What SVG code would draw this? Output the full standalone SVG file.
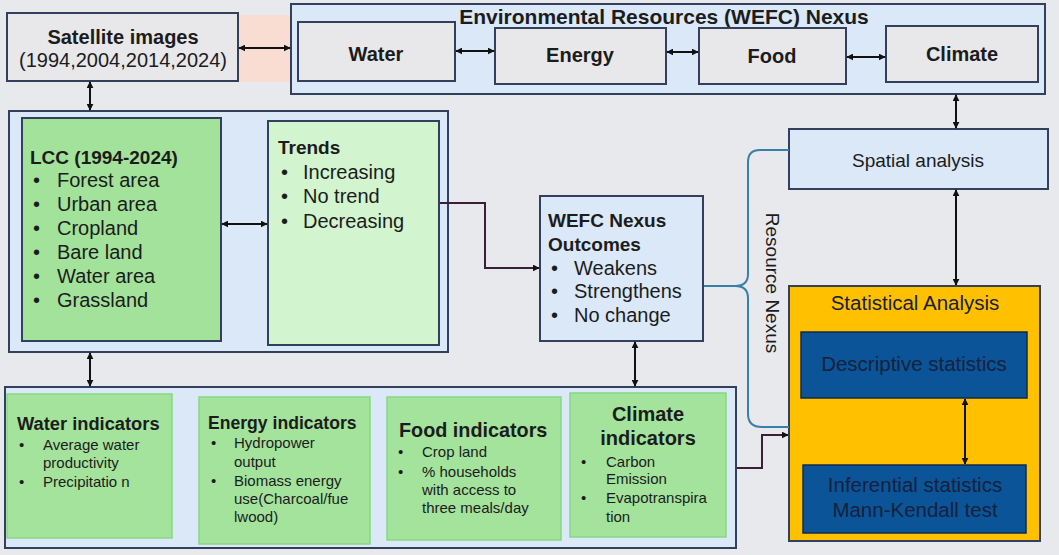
<svg xmlns="http://www.w3.org/2000/svg" width="1059" height="555" viewBox="0 0 1059 555">
<style>
text{font-family:"Liberation Sans",Arial,sans-serif;fill:#1c1c1c}
.b{font-weight:bold}
.box{stroke:#33405c;stroke-width:2}
.gray{fill:#e8e8ea}
.lb{fill:#dae8f8}
.grn{fill:#a3e39c;stroke:#86d982;stroke-width:1.5}
.con{fill:none;stroke:#111;stroke-width:2}
.plum{fill:none;stroke:#3a1f36;stroke-width:2}
.dbl{marker-start:url(#ah);marker-end:url(#ah)}
.one{marker-end:url(#ah)}
.t20{font-size:20px}
.t19{font-size:19px}
.t15{font-size:15px}
.c{text-anchor:middle}
.w{fill:#16213d}
</style>
<defs>
<marker id="ah" viewBox="0 0 10 10" refX="9" refY="5" markerWidth="7" markerHeight="7" markerUnits="userSpaceOnUse" orient="auto-start-reverse">
<path d="M0,0 L10,5 L0,10 z" fill="#111"/>
</marker>
</defs>
<rect width="1059" height="555" fill="#e8e9ec"/>
<rect x="239" y="15" width="52" height="67" fill="#f9dcd2"/>

<g id="satellite">
<rect class="box gray" x="7" y="13" width="231" height="68"/>
<text class="b t20 c" x="123" y="44">Satellite images</text>
<text class="t20 c" x="123" y="67">(1994,2004,2014,2024)</text>
</g>

<g id="wefc-nexus">
<rect class="box lb" x="291" y="4" width="754" height="90"/>
<text class="b c" x="664" y="24" font-size="21">Environmental Resources (WEFC) Nexus</text>
</g>
<g id="water"><rect class="box gray" x="298" y="22" width="157" height="59"/><text class="b t20 c" x="376" y="61">Water</text></g>
<g id="energy"><rect class="box gray" x="495" y="28" width="171" height="56"/><text class="b t20 c" x="580" y="62">Energy</text></g>
<g id="food"><rect class="box gray" x="699" y="28" width="147" height="56"/><text class="b t20 c" x="772" y="63">Food</text></g>
<g id="climate"><rect class="box gray" x="886" y="26" width="152" height="56"/><text class="b t20 c" x="962" y="61">Climate</text></g>

<g id="lcc-group"><rect class="box lb" x="9" y="111" width="439" height="241"/></g>
<g id="lcc">
<rect class="box" fill="#a2e29a" x="22" y="118" width="199" height="223"/>
<text class="b t19" x="30" y="164">LCC (1994-2024)</text>
<g class="t20">
<text x="33" y="187">•</text><text x="57" y="187">Forest area</text>
<text x="33" y="211">•</text><text x="57" y="211">Urban area</text>
<text x="33" y="235">•</text><text x="57" y="235">Cropland</text>
<text x="33" y="259">•</text><text x="57" y="259">Bare land</text>
<text x="33" y="283">•</text><text x="57" y="283">Water area</text>
<text x="33" y="307">•</text><text x="57" y="307">Grassland</text>
</g>
</g>
<g id="trends">
<rect class="box" fill="#d2f4cf" x="268" y="121" width="171" height="224"/>
<text class="b t19" x="278" y="154">Trends</text>
<g class="t20">
<text x="281" y="179">•</text><text x="303" y="179">Increasing</text>
<text x="281" y="203">•</text><text x="303" y="203">No trend</text>
<text x="281" y="228">•</text><text x="303" y="228">Decreasing</text>
</g>
</g>

<g id="outcomes">
<rect class="box lb" x="540" y="196" width="163" height="145"/>
<text class="b t19" x="548" y="227">WEFC Nexus</text>
<text class="b t19" x="548" y="251">Outcomes</text>
<g class="t20">
<text x="551" y="275">•</text><text x="574" y="275">Weakens</text>
<text x="551" y="298">•</text><text x="574" y="298">Strengthens</text>
<text x="551" y="322">•</text><text x="574" y="322">No change</text>
</g>
</g>

<g id="spatial">
<rect class="box lb" x="789" y="129" width="259" height="60"/>
<text class="t19 c" x="918" y="167">Spatial analysis</text>
</g>

<g id="statistical">
<rect class="box" fill="#ffc000" x="789" y="286" width="251" height="255"/>
<text class="c w" font-size="20.5" x="915" y="310">Statistical Analysis</text>
</g>
<g id="descriptive">
<rect x="801" y="332" width="226" height="66" fill="#0b5497" stroke="#16284a" stroke-width="1.5"/>
<text class="c w" font-size="20.5" x="914" y="371">Descriptive statistics</text>
</g>
<g id="inferential">
<rect x="803" y="465" width="223" height="68" fill="#0b5497" stroke="#16284a" stroke-width="1.5"/>
<text class="c w" font-size="20.5" x="915" y="492">Inferential statistics</text>
<text class="c w" font-size="20.5" x="915" y="517">Mann-Kendall test</text>
</g>

<g id="indicators-group"><rect class="box lb" x="5" y="387" width="731" height="161"/></g>
<g id="water-indicators">
<rect class="grn" x="7" y="394" width="165" height="144"/>
<text class="b" font-size="18.3" x="17" y="430">Water indicators</text>
<g class="t15">
<text x="19" y="450">•</text><text x="43" y="450">Average water</text>
<text x="43" y="468">productivity</text>
<text x="19" y="487">•</text><text x="43" y="487">Precipitatio n</text>
</g>
</g>
<g id="energy-indicators">
<rect class="grn" x="199" y="397" width="171" height="147"/>
<text class="b" font-size="17.6" x="208" y="429">Energy indicators</text>
<g class="t15">
<text x="211" y="448">•</text><text x="234" y="448">Hydropower</text>
<text x="234" y="467">output</text>
<text x="211" y="486">•</text><text x="234" y="486">Biomass energy</text>
<text x="234" y="504">use(Charcoal/fue</text>
<text x="234" y="522">lwood)</text>
</g>
</g>
<g id="food-indicators">
<rect class="grn" x="387" y="397" width="174" height="143"/>
<text class="b" font-size="19.8" x="399" y="437">Food indicators</text>
<g class="t15">
<text x="398" y="457">•</text><text x="422" y="457">Crop land</text>
<text x="398" y="477">•</text><text x="422" y="477">% households</text>
<text x="422" y="495">with access to</text>
<text x="422" y="513">three meals/day</text>
</g>
</g>
<g id="climate-indicators">
<rect class="grn" x="570" y="393" width="156" height="144"/>
<text class="b t20 c" x="648" y="421">Climate</text>
<text class="b t20 c" x="648" y="445">indicators</text>
<g class="t15">
<text x="581" y="467">•</text><text x="606" y="467">Carbon</text>
<text x="606" y="484">Emission</text>
<text x="581" y="503">•</text><text x="606" y="503">Evapotranspira</text>
<text x="606" y="522">tion</text>
</g>
</g>

<g id="resource-nexus-label">
<text class="t19 c" transform="translate(766,283) rotate(90)" x="0" y="0">Resource Nexus</text>
</g>

<g id="connectors">
<line class="con dbl" x1="239" y1="48" x2="290" y2="48"/>
<line class="con dbl" x1="456" y1="51" x2="494" y2="51"/>
<line class="con dbl" x1="667" y1="52" x2="698" y2="52"/>
<line class="con dbl" x1="847" y1="57" x2="885" y2="57"/>
<line class="con dbl" x1="90" y1="82" x2="90" y2="110"/>
<line class="con dbl" x1="956" y1="95" x2="956" y2="128"/>
<line class="con dbl" x1="222" y1="224" x2="267" y2="224"/>
<polyline class="plum one" points="440,203 485,203 485,268 539,268"/>
<line class="con dbl" x1="90" y1="353" x2="90" y2="386"/>
<line class="con dbl" x1="635" y1="342" x2="635" y2="386"/>
<line class="con dbl" x1="956" y1="190" x2="956" y2="285"/>
<line class="con dbl" x1="965" y1="399" x2="965" y2="464"/>
<polyline class="plum one" points="737,468 762,468 762,435 788,435"/>
<path d="M789,150 L760,150 Q748,150 748,162 L748,274 Q748,286 735,286 L704,286 M735,286 Q748,286 748,298 L748,414 Q748,427 762,427 L789,427" fill="none" stroke="#3a7fa8" stroke-width="2"/>
</g>
</svg>
